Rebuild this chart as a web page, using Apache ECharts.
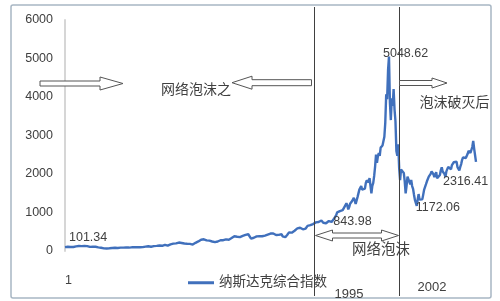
<!DOCTYPE html>
<html><head><meta charset="utf-8">
<script src="https://cdn.jsdelivr.net/npm/echarts@6.0.0/dist/echarts.min.js"></script>
<style>html,body{margin:0;padding:0;background:#fff}#c{width:500px;height:301px}</style>
</head><body><div id="c"></div>
<script>
// ---- data (monthly closes, Jan 1971 .. Jan 2008, read/estimated from the picture) ----
const seriesName = '纳斯达克综合指数';
const nasdaq1970s = [
  101.34,104.2,108.6,110.9,106.3,108.4,103.9,108.1,109.7,105.1,103.8,114.1,
  120.4,124.3,128.1,130.3,131.0,128.6,126.9,130.9,130.0,129.5,133.7,133.7,
  127.4,118.6,114.8,106.1,100.4,99.1,108.6,104.2,110.2,111.0,94.3,92.2,
  95.0,92.8,88.9,83.3,76.3,75.1,69.3,62.4,56.4,65.9,62.6,59.8,
  70.0,73.4,74.6,78.5,83.1,87.0,83.2,79.0,74.3,77.2,79.4,77.6,
  87.1,91.0,90.6,88.9,87.8,92.0,91.3,88.9,91.3,89.0,92.1,97.9,
  95.5,94.6,94.5,96.2,95.5,99.8,101.2,100.7,101.1,97.5,103.5,105.1,
  100.8,102.0,106.6,114.8,120.3,118.1,123.9,130.7,132.9,111.1,115.1,118.0,
  125.8,122.6,131.8,132.9,129.9,137.0,141.3,150.4,149.9,135.5,144.3,151.1
];
const nasdaq1980s = [
  161.8,158.0,131.0,139.2,150.5,157.8,171.8,181.5,187.8,192.8,208.2,202.3,
  197.8,202.0,215.0,219.7,223.5,215.8,207.1,195.8,180.0,193.7,201.4,195.8,
  188.4,178.4,175.6,184.7,178.5,171.3,167.4,177.7,187.7,212.6,232.3,232.4,
  248.4,260.7,270.8,293.1,308.7,318.7,303.9,292.4,296.7,274.9,285.7,278.6,
  268.4,252.6,253.0,247.4,232.8,239.7,229.7,255.6,249.9,247.0,242.5,247.4,
  278.7,284.2,279.2,280.6,290.8,296.2,301.3,297.7,280.3,292.5,313.9,324.9,
  335.8,359.5,374.7,383.2,400.2,405.5,371.4,382.9,350.7,360.8,359.6,348.8,
  392.1,424.0,430.1,417.8,416.5,424.7,434.9,454.5,444.3,323.3,305.2,330.5,
  344.7,366.9,374.6,379.2,370.3,394.7,387.3,376.6,387.7,382.5,371.5,381.4,
  401.3,399.7,406.7,427.6,446.2,435.3,453.8,469.3,472.9,455.6,456.1,454.8
];
const nasdaq1990s = [
  415.8,425.8,435.5,420.1,458.0,462.3,438.2,381.2,344.5,329.8,359.1,373.8,
  414.2,453.1,482.3,484.7,506.1,475.9,502.0,525.7,526.9,542.9,523.9,586.3,
  620.2,633.5,603.8,578.7,585.3,563.6,580.8,563.1,583.3,605.2,652.7,677.0,
  696.3,670.8,690.1,661.4,700.5,704.0,704.7,742.8,762.8,779.3,754.4,776.8,
  800.5,793.0,743.5,733.8,735.2,706.0,722.2,765.6,764.3,777.5,750.3,752.0,
  755.2,793.7,817.2,843.98,864.6,933.5,1001.2,1020.1,1043.5,1036.1,1059.2,1052.1,
  1059.8,1100.1,1101.4,1190.5,1243.4,1185.0,1080.6,1141.5,1226.9,1221.5,1292.6,1291.0,
  1379.9,1309.0,1221.7,1260.8,1400.3,1442.1,1593.8,1587.3,1685.7,1593.6,1600.6,1570.4,
  1619.4,1770.5,1835.7,1868.4,1778.9,1894.7,1872.4,1499.3,1693.8,1771.4,1949.5,2192.7,
  2505.9,2288.0,2461.4,2542.9,2470.5,2686.1,2638.5,2739.4,2746.2,2966.4,3336.2,4069.3
];
const nasdaq2000s = [
  3940.4,4696.7,5048.62,3860.7,3400.9,3966.1,3766.99,4206.4,3672.8,3370.0,2597.9,2470.5,
  2772.7,2151.8,1840.3,2116.2,2110.5,2160.5,2027.1,1805.4,1498.8,1690.2,1930.6,1950.4,
  1934.0,1731.5,1845.4,1688.2,1615.7,1463.2,1328.3,1314.9,1172.06,1329.8,1478.8,1335.5,
  1320.9,1337.5,1341.2,1464.3,1595.9,1622.8,1735.0,1810.5,1786.9,1932.2,1960.3,2003.4,
  2066.2,2029.8,1994.2,1920.2,1986.7,2047.8,1887.4,1838.1,1896.8,1974.9,2096.8,2175.4,
  2062.4,2051.7,1999.2,1921.7,2068.2,2057.0,2184.8,2152.1,2151.7,2120.3,2232.8,2205.3,
  2305.8,2281.4,2339.8,2322.6,2178.9,2172.1,2091.5,2183.8,2258.4,2366.7,2431.8,2415.3,
  2463.9,2416.2,2421.6,2525.1,2604.5,2603.2,2546.3,2596.4,2701.5,2859.1,2660.96,2652.3,
  2316.41
];
const yTicks = [0,1000,2000,3000,4000,5000,6000];
const firstCategoryLabel = '1';
const eraYearLabels = ['1995','2002'];
const eraBoundaryIndex = [269, 361];
const labelledPointIndex = [0, 291, 350, 380, 444];
const leftEraText = '网络泡沫之';
const bubbleText = '网络泡沫';
const afterText = '泡沫破灭后';

// ---- chart ----
const FONT = '"Liberation Sans","Noto Sans CJK SC",sans-serif';
const TXT = '#404040';
const LINE = '#4070BC';
const values = [].concat(nasdaq1970s, nasdaq1980s, nasdaq1990s, nasdaq2000s);
const categories = values.map((_, i) => String(i + 1));

const chart = echarts.init(document.getElementById('c'), null, {renderer: 'canvas'});
chart.setOption({
  animation: false,
  backgroundColor: '#fff',
  grid: {left: 65, right: 24, top: 20, bottom: 50, outerBoundsMode: 'none', containLabel: false},
  legend: {
    left: 183, top: 271, icon: 'rect', itemWidth: 26, itemHeight: 3,
    textStyle: {fontSize: 13.5, color: TXT, fontFamily: FONT},
    data: [seriesName]
  },
  xAxis: {
    type: 'category', data: categories, boundaryGap: false,
    axisLine: {show: false}, axisTick: {show: false}, splitLine: {show: false},
    axisLabel: {
      interval: (i) => i === 0,
      formatter: (v, i) => (i === 0 ? firstCategoryLabel : ''),
      margin: 23, align: 'left', fontSize: 12.5, color: TXT, fontFamily: FONT
    }
  },
  yAxis: {
    type: 'value', min: yTicks[0], max: yTicks[yTicks.length - 1], interval: yTicks[1] - yTicks[0],
    axisLine: {show: true, lineStyle: {color: '#d6d6d6', width: 2}},
    axisTick: {show: false}, splitLine: {show: false},
    axisLabel: {margin: 12, fontSize: 12.5, color: TXT, fontFamily: FONT, formatter: (v) => String(v)}
  },
  series: [{
    type: 'line', name: seriesName, data: values, symbol: 'none',
    lineStyle: {color: LINE, width: 2.4}, itemStyle: {color: LINE}
  }]
});

// ---- annotations anchored to the axes ----
const px = (i, v) => chart.convertToPixel({gridIndex: 0}, [i, v]);
function rightArrow(x0, x1, yc, sh, hh, hl) {
  return [[x0, yc - sh / 2], [x1 - hl, yc - sh / 2], [x1 - hl, yc - hh / 2], [x1, yc],
          [x1 - hl, yc + hh / 2], [x1 - hl, yc + sh / 2], [x0, yc + sh / 2]];
}
function leftArrow(x0, x1, yc, sh, hh, hl) {
  return [[x0, yc], [x0 + hl, yc - hh / 2], [x0 + hl, yc - sh / 2], [x1, yc - sh / 2],
          [x1, yc + sh / 2], [x0 + hl, yc + sh / 2], [x0 + hl, yc + hh / 2]];
}
function doubleArrow(x0, x1, yc, sh, hh, hl) {
  return [[x0, yc], [x0 + hl, yc - hh / 2], [x0 + hl, yc - sh / 2], [x1 - hl, yc - sh / 2],
          [x1 - hl, yc - hh / 2], [x1, yc], [x1 - hl, yc + hh / 2], [x1 - hl, yc + sh / 2],
          [x0 + hl, yc + sh / 2], [x0 + hl, yc + hh / 2]];
}
function text(t, x, y, size, align) {
  return {type: 'text', z: 120, style: {text: t, x: x, y: y, fill: TXT,
    font: size + 'px ' + FONT, align: align || 'center', verticalAlign: 'middle',
    textAlign: align || 'center', textVerticalAlign: 'middle'}};
}
const arrowStyle = {fill: '#fff', stroke: '#555', lineWidth: 1};
const xa = Math.round(px(eraBoundaryIndex[0], 0)[0]) + 0.5;
const xb = Math.round(px(eraBoundaryIndex[1], 0)[0]) + 0.5;

const labelOffsets = [[4, -10], [-1, 3.5], [-6, -3.5], [-1, 2], [-33, 20]];
const pointTexts = labelledPointIndex.map((idx, k) => {
  const p = px(idx, values[idx]);
  return text(String(values[idx]), p[0] + labelOffsets[k][0], p[1] + labelOffsets[k][1], 12.5, 'left');
});

const g = [
  {type: 'rect', z: 1, shape: {x: 11, y: 5, width: 480, height: 293, r: 2},
   style: {fill: 'none', stroke: '#a8b6c4', lineWidth: 1.5}},
  {type: 'line', z: 110, shape: {x1: xa, y1: 7, x2: xa, y2: 296}, style: {stroke: '#404040', lineWidth: 1}},
  {type: 'line', z: 110, shape: {x1: xb, y1: 7, x2: xb, y2: 296}, style: {stroke: '#404040', lineWidth: 1}},
  {type: 'polygon', z: 115, shape: {points: rightArrow(40, 123, 83.5, 5, 13, 23)}, style: arrowStyle},
  {type: 'polygon', z: 115, shape: {points: leftArrow(232, xa - 3, 82.7, 6, 13, 20)}, style: arrowStyle},
  {type: 'polygon', z: 115, shape: {points: rightArrow(xb, 447, 83, 5, 10, 15)}, style: arrowStyle},
  {type: 'polygon', z: 115, shape: {points: doubleArrow(xa + 1, xb - 1, 235.5, 5, 11, 17)}, style: arrowStyle},
  text(leftEraText, 196, 90, 14),
  text(afterText, 454.5, 103, 14),
  text(bubbleText, 381, 250, 14.5),
  text(eraYearLabels[0], 349, 294, 13),
  text(eraYearLabels[1], 432, 287, 13)
].concat(pointTexts);

chart.setOption({graphic: g});
</script>
</body></html>
